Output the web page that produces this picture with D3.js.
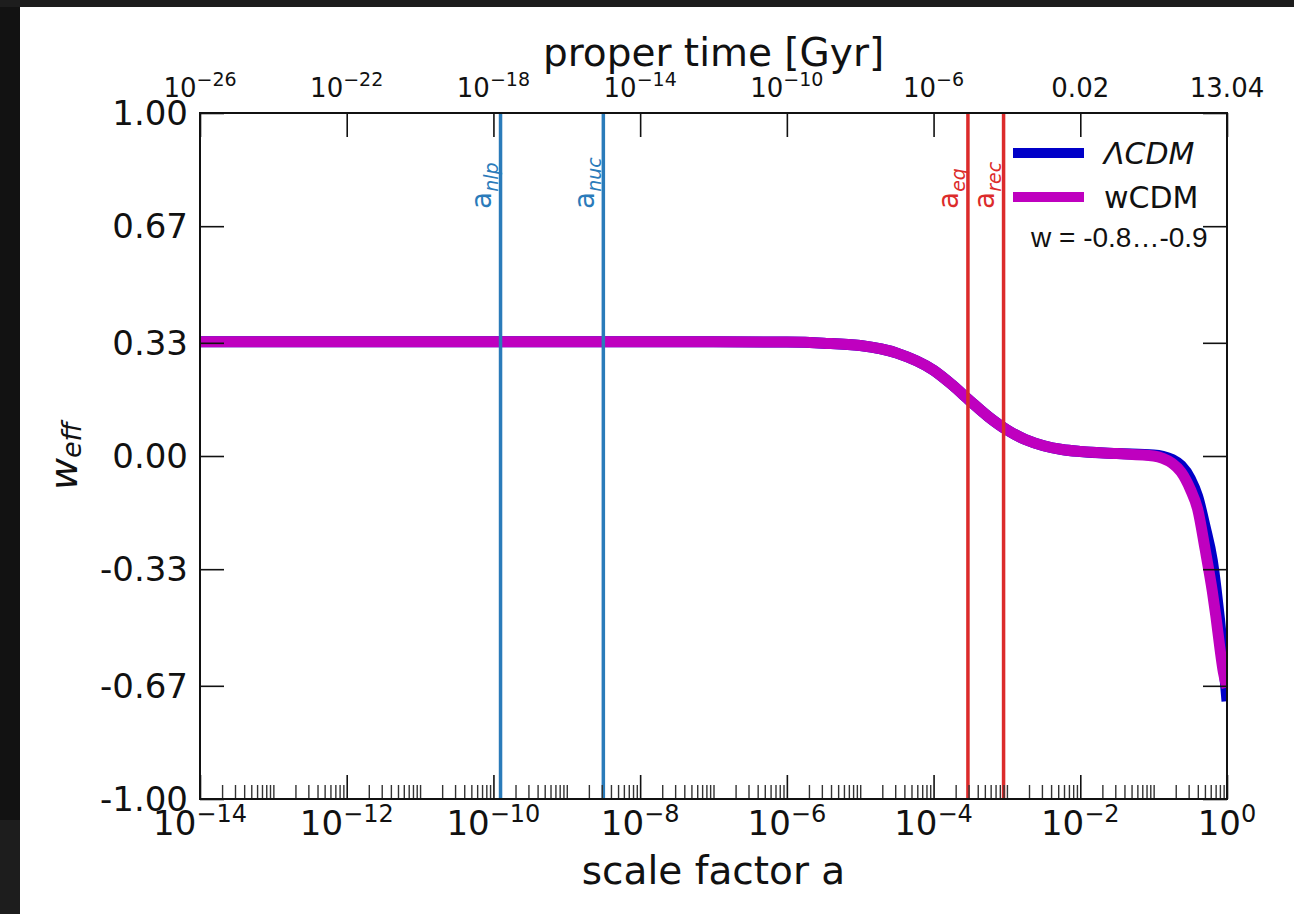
<!DOCTYPE html>
<html>
<head>
<meta charset="utf-8">
<script src="https://cdn.jsdelivr.net/npm/d3@7"></script>
<style>
  html, body { margin: 0; padding: 0; background: #1c1c1c; }
  svg { display: block; }
  text { font-family: "DejaVu Sans", sans-serif; fill: #111; }
</style>
</head>
<body>
<svg id="chart" width="1294" height="914"></svg>
<script>
// ---- data -------------------------------------------------------------
// log10 of the scale factor at which w_eff is sampled
const logA = [-14, -10, -7, -6, -5.5, -5, -4.5, -4, -3.75, -3.5, -3.25, -3, -2.75, -2.5,
              -2.25, -2, -1.5, -1, -0.875, -0.75, -0.625, -0.5, -0.4, -0.3, -0.2, -0.15,
              -0.1, -0.05, 0];
// effective equation of state, LambdaCDM
const wLCDM = [0.333, 0.333, 0.333, 0.332, 0.329, 0.322, 0.300, 0.250, 0.208, 0.160, 0.114,
               0.076, 0.048, 0.030, 0.019, 0.013, 0.007, 0.003, -0.001, -0.010, -0.028,
               -0.066, -0.118, -0.205, -0.305, -0.385, -0.480, -0.590, -0.715];
// effective equation of state, wCDM (w = -0.8 ... -0.9)
const wWCDM = [0.333, 0.333, 0.333, 0.332, 0.329, 0.322, 0.300, 0.250, 0.208, 0.160, 0.114,
               0.076, 0.048, 0.030, 0.019, 0.013, 0.007, 0.000, -0.007, -0.021, -0.047,
               -0.097, -0.155, -0.270, -0.395, -0.470, -0.555, -0.630, -0.675];

// characteristic epochs
const epochNames = ["nlp", "nuc", "eq", "rec"];
const epochA = [1.25e-10, 3.15e-9, 2.94e-4, 9.0e-4];
const epochKind = ["early", "early", "late", "late"];

// axis ticks
const bottomTickExp = [-14, -12, -10, -8, -6, -4, -2, 0];
const topTickLabels = [["10", "−26"], ["10", "−22"], ["10", "−18"], ["10", "−14"],
                       ["10", "−10"], ["10", "−6"], ["0.02", ""], ["13.04", ""]];
const yTicks = [-1, -0.67, -0.33, 0, 0.33, 0.67, 1];
const yTickLabels = ["-1.00", "-0.67", "-0.33", "0.00", "0.33", "0.67", "1.00"];

const seriesNames = ["ΛCDM", "wCDM"];
const legendNote = "w = -0.8…-0.9";

// ---- layout -----------------------------------------------------------
const W = 1294, H = 914;
const plot = { left: 200, right: 1227, top: 113, bottom: 799 };

const svg = d3.select("#chart");

// page backdrop
svg.append("rect").attr("x", 0).attr("y", 0).attr("width", W).attr("height", H).attr("fill", "#1d1d1d");
svg.append("rect").attr("x", 0).attr("y", 7).attr("width", 20).attr("height", 813).attr("fill", "#121212");
svg.append("rect").attr("x", 20).attr("y", 7).attr("width", W - 20).attr("height", H - 7).attr("fill", "#ffffff");

const x = d3.scaleLog().domain([1e-14, 1]).range([plot.left, plot.right]);
const y = d3.scaleLinear().domain([-1, 1]).range([plot.bottom, plot.top]);

const seriesColor = d3.scaleOrdinal().domain(seriesNames).range(["#0000c8", "#bf00bf"]);
const epochColor = d3.scaleOrdinal().domain(["early", "late"]).range(["#2a7bba", "#dc2b2b"]);

svg.append("defs").append("clipPath").attr("id", "plotClip")
  .append("rect")
  .attr("x", plot.left).attr("y", plot.top)
  .attr("width", plot.right - plot.left).attr("height", plot.bottom - plot.top);

const body = svg.append("g").attr("clip-path", "url(#plotClip)");

// ---- curves ---------------------------------------------------------------
const line = d3.line()
  .x(d => x(Math.pow(10, d[0])))
  .y(d => y(d[1]))
  .curve(d3.curveMonotoneX);

[wLCDM, wWCDM].forEach((vals, i) => {
  body.append("path")
    .datum(logA.map((la, k) => [la, vals[k]]))
    .attr("fill", "none")
    .attr("stroke", seriesColor(seriesNames[i]))
    .attr("stroke-width", 11)
    .attr("stroke-linejoin", "round")
    .attr("d", line);
});

// ---- epoch markers -------------------------------------------------------
body.selectAll("line.epoch")
  .data(epochA)
  .join("line")
  .attr("class", "epoch")
  .attr("x1", d => x(d)).attr("x2", d => x(d))
  .attr("y1", plot.top).attr("y2", plot.bottom)
  .attr("stroke", (d, i) => epochColor(epochKind[i]))
  .attr("stroke-width", 3.5);

epochA.forEach((a, i) => {
  const t = svg.append("text")
    .attr("transform", `translate(${x(a) - 9.5},209) rotate(-90)`)
    .attr("text-anchor", "start")
    .style("fill", epochColor(epochKind[i]));
  t.append("tspan").attr("font-size", 28).text("a");
  t.append("tspan").attr("font-size", 19).attr("font-style", "italic").attr("dy", 7)
    .text(epochNames[i]);
});

// ---- axes -----------------------------------------------------------------
const minorTicks = [];
for (let e = -14; e < 0; e++) {
  for (let m = 1; m <= 9; m++) {
    if (m === 1 && e % 2 === 0) continue;
    minorTicks.push(m * Math.pow(10, e));
  }
}
const majorA = bottomTickExp.map(e => Math.pow(10, e));

const axes = svg.append("g");

// bottom: minor ticks
axes.append("g")
  .attr("transform", `translate(0,${plot.bottom})`)
  .call(d3.axisBottom(x).tickValues(minorTicks).tickSize(-14).tickFormat(""))
  .call(g => g.select(".domain").remove())
  .call(g => g.selectAll(".tick line").attr("stroke", "#333").attr("stroke-width", 1.4));

// bottom: major ticks
axes.append("g")
  .attr("transform", `translate(0,${plot.bottom})`)
  .call(d3.axisBottom(x).tickValues(majorA).tickSize(-24).tickFormat(""))
  .call(g => g.select(".domain").remove())
  .call(g => g.selectAll(".tick line").attr("stroke", "#111").attr("stroke-width", 1.6));

// top: proper time ticks
axes.append("g")
  .attr("transform", `translate(0,${plot.top})`)
  .call(d3.axisTop(x).tickValues(majorA).tickSize(-24).tickFormat(""))
  .call(g => g.select(".domain").remove())
  .call(g => g.selectAll(".tick line").attr("stroke", "#111").attr("stroke-width", 1.6));

// left and right
axes.append("g")
  .attr("transform", `translate(${plot.left},0)`)
  .call(d3.axisLeft(y).tickValues(yTicks).tickSize(-24).tickFormat(""))
  .call(g => g.select(".domain").remove())
  .call(g => g.selectAll(".tick line").attr("stroke", "#111").attr("stroke-width", 1.6));
axes.append("g")
  .attr("transform", `translate(${plot.right},0)`)
  .call(d3.axisRight(y).tickValues(yTicks).tickSize(-24).tickFormat(""))
  .call(g => g.select(".domain").remove())
  .call(g => g.selectAll(".tick line").attr("stroke", "#111").attr("stroke-width", 1.6));

// frame
axes.append("rect")
  .attr("x", plot.left).attr("y", plot.top)
  .attr("width", plot.right - plot.left).attr("height", plot.bottom - plot.top)
  .attr("fill", "none").attr("stroke", "#111").attr("stroke-width", 2);

// tick labels
const labels = svg.append("g");

yTicks.forEach((v, i) => {
  labels.append("text")
    .attr("x", plot.left - 12).attr("y", y(v)).attr("dy", "0.36em")
    .attr("text-anchor", "end").attr("font-size", 34)
    .text(yTickLabels[i]);
});

bottomTickExp.forEach(e => {
  const t = labels.append("text")
    .attr("x", x(Math.pow(10, e))).attr("y", 835)
    .attr("text-anchor", "middle").attr("font-size", 34);
  t.append("tspan").text("10");
  t.append("tspan").attr("font-size", 24).attr("dy", -13)
    .text(e < 0 ? "−" + Math.abs(e) : String(e));
});

topTickLabels.forEach((lab, i) => {
  const t = labels.append("text")
    .attr("x", x(majorA[i])).attr("y", 97)
    .attr("text-anchor", "middle").attr("font-size", 26);
  t.append("tspan").text(lab[0]);
  if (lab[1]) t.append("tspan").attr("font-size", 19).attr("dy", -11).text(lab[1]);
});

// axis titles
const cx = (plot.left + plot.right) / 2;
labels.append("text").attr("x", cx).attr("y", 66).attr("text-anchor", "middle")
  .attr("font-size", 39).text("proper time [Gyr]");
labels.append("text").attr("x", cx).attr("y", 884).attr("text-anchor", "middle")
  .attr("font-size", 39).text("scale factor a");

const yl = labels.append("text")
  .attr("transform", `translate(77,${(plot.top + plot.bottom) / 2}) rotate(-90)`)
  .attr("text-anchor", "middle").attr("font-style", "italic");
yl.append("tspan").attr("font-size", 39).text("w");
yl.append("tspan").attr("font-size", 27).attr("dy", 4).text("eff");

// ---- legend ---------------------------------------------------------------
const legend = svg.append("g");
const legendRows = [153, 197];
seriesNames.forEach((name, i) => {
  legend.append("line")
    .attr("x1", 1013).attr("x2", 1084)
    .attr("y1", legendRows[i]).attr("y2", legendRows[i])
    .attr("stroke", seriesColor(name)).attr("stroke-width", 10);
  legend.append("text")
    .attr("x", 1104).attr("y", legendRows[i] + 11)
    .attr("font-size", 30)
    .attr("font-style", i === 0 ? "italic" : "normal")
    .text(name);
});
legend.append("text")
  .attr("x", 1031).attr("y", 247)
  .attr("font-size", 28)
  .style("font-family", "'Liberation Sans', Arial, sans-serif")
  .text(legendNote);
</script>
</body>
</html>
